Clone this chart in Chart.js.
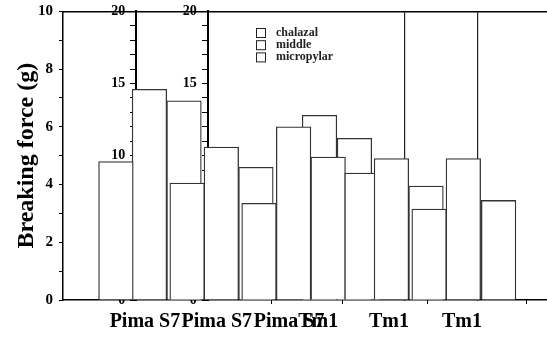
<!DOCTYPE html>
<html>
<head>
<title>Breaking force</title>
<script src="https://cdn.jsdelivr.net/npm/chart.js@4.4.1/dist/chart.umd.min.js"></script>
<style>
  html, body { margin: 0; padding: 0; background: #fff; }
  .chart-container { width: 547px; height: 342px; }
</style>
</head>
<body>
<div class="chart-container"><canvas id="forceChart"></canvas></div>
<script>
// category labels under the x axis and where they sit (x in bar-slot units)
const catLabels = ['Pima S7', 'Pima S7', 'Pima S7', 'Tm1', 'Tm1', 'Tm1'];
const catPos = [2.37, 4.45, 6.54, 7.38, 9.43, 11.54];
const xTickPos = [7.06, 9.11, 11.98];

// the three overlaid panels: axis locations and the two stray frame edges
const panelAxisPos = [2.11, 4.19];
const frameEdgePos = [9.89, 11.98];

// bars: slot centre, breaking force, which axis, drawing layer
const barPos   = [1.53, 2.50, 3.50, 3.59, 4.58, 5.58, 5.67, 6.67, 7.42, 7.67, 8.43, 8.65, 9.50, 10.50, 10.59, 11.58, 12.60];
const barForce = [4.8, 14.6, 13.8, 8.1, 10.6, 9.2, 6.7, 12.0, 12.8, 9.9, 11.2, 8.8, 9.8, 7.9, 6.3, 9.8, 6.9];
const barAxis  = ['y', 'y2', 'y2', 'y2', 'y3', 'y3', 'y3', 'y3', 'y3', 'y3', 'y3', 'y3', 'y3', 'y3', 'y3', 'y3', 'y3'];
const barLayer = ['front', 'front', 'back', 'front', 'front', 'back', 'front', 'front', 'back', 'front', 'back', 'front', 'top', 'back', 'front', 'top', 'front'];

const legendLabels = ['chalazal', 'middle', 'micropylar'];

const serif = '"Liberation Serif", "Times New Roman", serif';
const layerOrder = { top: 0, front: 1, back: 2 };

const groups = [['y', 'front'], ['y2', 'back'], ['y2', 'front'], ['y3', 'back'], ['y3', 'front'], ['y3', 'top']];
const datasets = groups.map(([axis, layer]) => ({
  label: axis + ' ' + layer,
  data: barPos
    .map((x, i) => ({ x: x, y: barForce[i], axis: barAxis[i], layer: barLayer[i] }))
    .filter(d => d.axis === axis && d.layer === layer),
  yAxisID: axis,
  xAxisID: 'x',
  order: layerOrder[layer],
  backgroundColor: '#fff',
  borderColor: '#333',
  borderWidth: 1.3,
  barThickness: 34.6,
  grouped: false
}));

// simple legend: empty boxes with bold labels inside the plot
const boxLegend = {
  id: 'boxLegend',
  afterDraw(chart) {
    const ctx = chart.ctx;
    ctx.save();
    ctx.font = 'bold 12px ' + serif;
    ctx.fillStyle = '#222';
    ctx.strokeStyle = '#222';
    ctx.lineWidth = 1;
    ctx.textBaseline = 'middle';
    legendLabels.forEach((t, i) => {
      const y = 28 + i * 12.2;
      ctx.strokeRect(256.5, y + 0.5, 9, 9);
      ctx.fillText(t, 276, y + 5);
    });
    ctx.restore();
  }
};

const frameAxis = (pos) => ({
  type: 'linear',
  axis: 'y',
  position: { x: pos },
  min: 0,
  max: 20,
  ticks: { display: false },
  grid: { drawOnChartArea: false, drawTicks: false },
  border: { color: '#222', width: 1.2 }
});

// axis line with a tick every unit
const panelAxis = (pos) => ({
  type: 'linear',
  axis: 'y',
  position: { x: pos },
  min: 0,
  max: 20,
  z: 1,
  ticks: { stepSize: 1, autoSkip: false, callback: () => '' },
  grid: { drawOnChartArea: false, tickLength: 5, color: '#000' },
  border: { color: '#000', width: 2 }
});

// labels of the same axis, a little to the left of the line
const panelLabels = (pos) => ({
  type: 'linear',
  axis: 'y',
  position: { x: pos - 0.31 },
  min: 0,
  max: 20,
  z: 1,
  ticks: {
    stepSize: 5,
    autoSkip: false,
    color: '#000',
    font: { family: serif, size: 14, weight: 'bold' }
  },
  grid: { display: false, drawTicks: false },
  border: { display: false }
});

const config = {
  type: 'bar',
  data: { datasets: datasets },
  plugins: [boxLegend],
  options: {
    responsive: true,
    maintainAspectRatio: false,
    animation: false,
    layout: { padding: { top: 10, right: 0, left: 0, bottom: 0 } },
    plugins: {
      legend: { display: false },
      tooltip: { enabled: false }
    },
    scales: {
      x: {
        type: 'linear',
        axis: 'x',
        position: 'bottom',
        min: 0,
        max: 14,
        offset: false,
        grid: { drawOnChartArea: false, drawTicks: false, offset: false },
        border: { color: '#000', width: 1.5 },
        ticks: {
          autoSkip: false,
          maxRotation: 0,
          padding: 10,
          color: '#000',
          font: { family: serif, size: 20, weight: 'bold' },
          callback: (v, i) => catLabels[i]
        },
        afterBuildTicks: s => { s.ticks = catPos.map(v => ({ value: v })); },
        afterFit: s => { s.height = 42; }
      },
      xTop: {
        type: 'linear',
        axis: 'x',
        position: 'top',
        min: 0,
        max: 14,
        offset: false,
        ticks: { display: false },
        grid: { drawOnChartArea: false, drawTicks: false },
        border: { color: '#000', width: 1.5 },
        afterFit: s => { s.height = 0; }
      },
      xMarks: {
        type: 'linear',
        axis: 'x',
        position: { y: 0 },
        min: 0,
        max: 14,
        offset: false,
        ticks: { autoSkip: false, callback: () => '' },
        grid: { drawOnChartArea: false, tickLength: 4, color: '#000' },
        border: { display: false },
        afterBuildTicks: s => { s.ticks = xTickPos.map(v => ({ value: v })); }
      },
      y: {
        type: 'linear',
        axis: 'y',
        position: 'left',
        min: 0,
        max: 10,
        ticks: {
          stepSize: 1,
          autoSkip: false,
          padding: 6,
          color: '#000',
          font: { family: serif, size: 15, weight: 'bold' },
          callback: v => (v % 2 === 0 ? v : '')
        },
        grid: { drawOnChartArea: false, tickLength: 4, color: '#000' },
        border: { color: '#000', width: 1.5 },
        title: {
          display: true,
          text: 'Breaking force (g)',
          color: '#000',
          font: { family: serif, size: 24, weight: 'bold' },
          padding: { top: 12, bottom: 0 }
        },
        afterFit: s => {
          s.width = 63;
          s.paddingTop = 0;
        }
      },
      y2: panelAxis(panelAxisPos[0]),
      y3: panelAxis(panelAxisPos[1]),
      y2Labels: panelLabels(panelAxisPos[0]),
      y3Labels: panelLabels(panelAxisPos[1] - 0.01),
      edge1: frameAxis(frameEdgePos[0]),
      edge2: frameAxis(frameEdgePos[1])
    }
  }
};

new Chart(document.getElementById('forceChart'), config);
</script>
</body>
</html>
